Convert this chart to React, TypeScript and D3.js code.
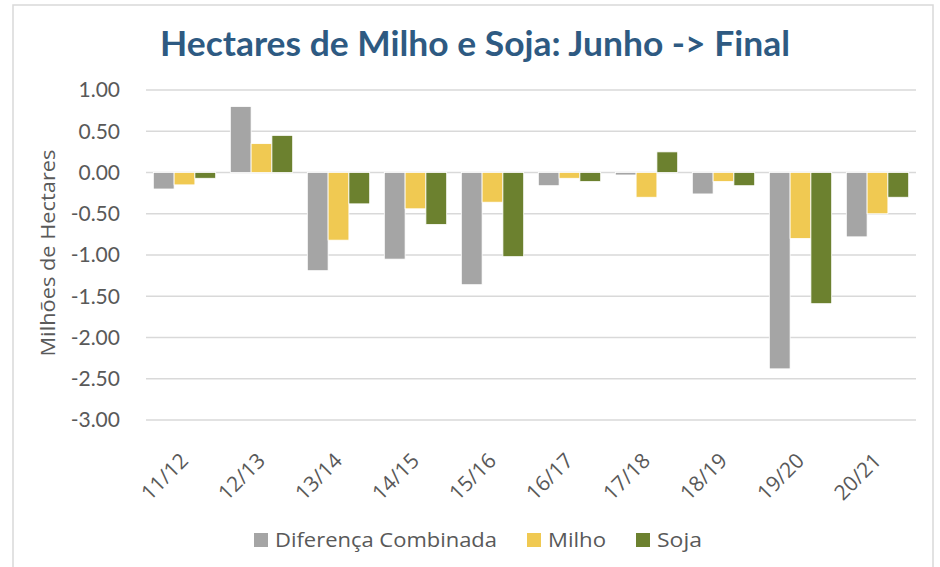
import React from 'react'
import * as d3 from 'd3'

// safras (x axis categories)
const categories = ['11/12', '12/13', '13/14', '14/15', '15/16', '16/17', '17/18', '18/19', '19/20', '20/21']
const seriesNames = ['Diferença Combinada', 'Milho', 'Soja']
// milhões de hectares
const combinada = [-0.2, 0.8, -1.19, -1.05, -1.36, -0.16, -0.03, -0.26, -2.38, -0.78]
const milho = [-0.15, 0.35, -0.82, -0.44, -0.36, -0.07, -0.3, -0.11, -0.8, -0.5]
const soja = [-0.07, 0.45, -0.38, -0.63, -1.02, -0.11, 0.25, -0.16, -1.59, -0.3]
const yTicks = [1, 0.5, 0, -0.5, -1, -1.5, -2, -2.5, -3]

const colors = ['#A5A5A5', '#F0C952', '#6C812F']
const font = 'Lato, "Open Sans", sans-serif'
const wideFont = '"Open Sans", Lato, sans-serif'

const App = () => {
    const width = 940,
        height = 567
    const left = 146,
        right = 916,
        top = 90,
        bottom = 420

    const values = [combinada, milho, soja]

    const x0 = d3.scaleBand().domain(categories).range([left, right]).padding(0)
    const bw = x0.bandwidth()
    const x1 = d3.scaleBand().domain(seriesNames).range([bw * 0.095, bw * 0.905]).padding(0)
    const y = d3.scaleLinear().domain([-3, 1]).range([bottom, top])
    // excel style: plain hyphen, not the unicode minus
    const fmt = (t: number) => d3.format('.2f')(t).replace('\u2212', '-')

    // legend layout: square + label
    const legendX = [254, 527, 636]
    const legendLen = [222, 58, 45]

    return (
        <svg width={width} height={height} style={{ position: 'absolute', left: 0, top: 0 }}>
            <rect x={0} y={0} width={width} height={height} fill="#fff" />
            <rect x={13} y={5} width={920} height={600} fill="#fff" stroke="#D9D9D9" strokeWidth={1.5} />
            <text
                x={475}
                y={56}
                textAnchor="middle"
                fontFamily={font}
                fontWeight="bold"
                fontSize={35}
                fill="#2E5A82"
                textLength={630}
                lengthAdjust="spacingAndGlyphs"
            >
                Hectares de Milho e Soja: Junho -&gt; Final
            </text>

            {/* gridlines + y ticks */}
            {yTicks.map((t) => (
                <g key={t}>
                    <line x1={left} x2={right} y1={y(t)} y2={y(t)} stroke="#D9D9D9" strokeWidth={1.3} />
                    <text
                        x={120}
                        y={y(t)}
                        dy="0.35em"
                        textAnchor="end"
                        fontFamily={font}
                        fontSize={21}
                        fill="#595959"
                    >
                        {fmt(t)}
                    </text>
                </g>
            ))}

            <text
                transform={`translate(55,${(top + bottom) / 2 - 2}) rotate(-90)`}
                textAnchor="middle"
                fontFamily={wideFont}
                fontSize={20}
                fill="#595959"
                textLength={207}
                lengthAdjust="spacingAndGlyphs"
            >
                Milhões de Hectares
            </text>

            {/* bars */}
            {categories.map((c, i) => (
                <g key={c} transform={`translate(${x0(c)},0)`}>
                    {seriesNames.map((s, j) => {
                        const v = values[j][i]
                        return (
                            <rect
                                key={s}
                                x={x1(s)}
                                y={y(Math.max(0, v))}
                                width={x1.bandwidth()}
                                height={Math.abs(y(v) - y(0))}
                                fill={colors[j]}
                                stroke="#fff"
                                strokeWidth={0.8}
                            />
                        )
                    })}
                </g>
            ))}

            {/* x labels */}
            {categories.map((c) => (
                <text
                    key={c}
                    transform={`translate(${(x0(c) as number) + bw / 2 + 5},462) rotate(-45)`}
                    textAnchor="end"
                    fontFamily={wideFont}
                    fontSize={21}
                    fill="#595959"
                >
                    {c}
                </text>
            ))}

            {/* legend */}
            {seriesNames.map((s, j) => (
                <g key={s} transform={`translate(${legendX[j]},540)`}>
                    <rect x={0} y={-7} width={14} height={14} fill={colors[j]} />
                    <text
                        x={21}
                        y={0}
                        dy="0.35em"
                        fontFamily={wideFont}
                        fontSize={20}
                        fill="#595959"
                        textLength={legendLen[j]}
                        lengthAdjust="spacingAndGlyphs"
                    >
                        {s}
                    </text>
                </g>
            ))}
        </svg>
    )
}

export default App
